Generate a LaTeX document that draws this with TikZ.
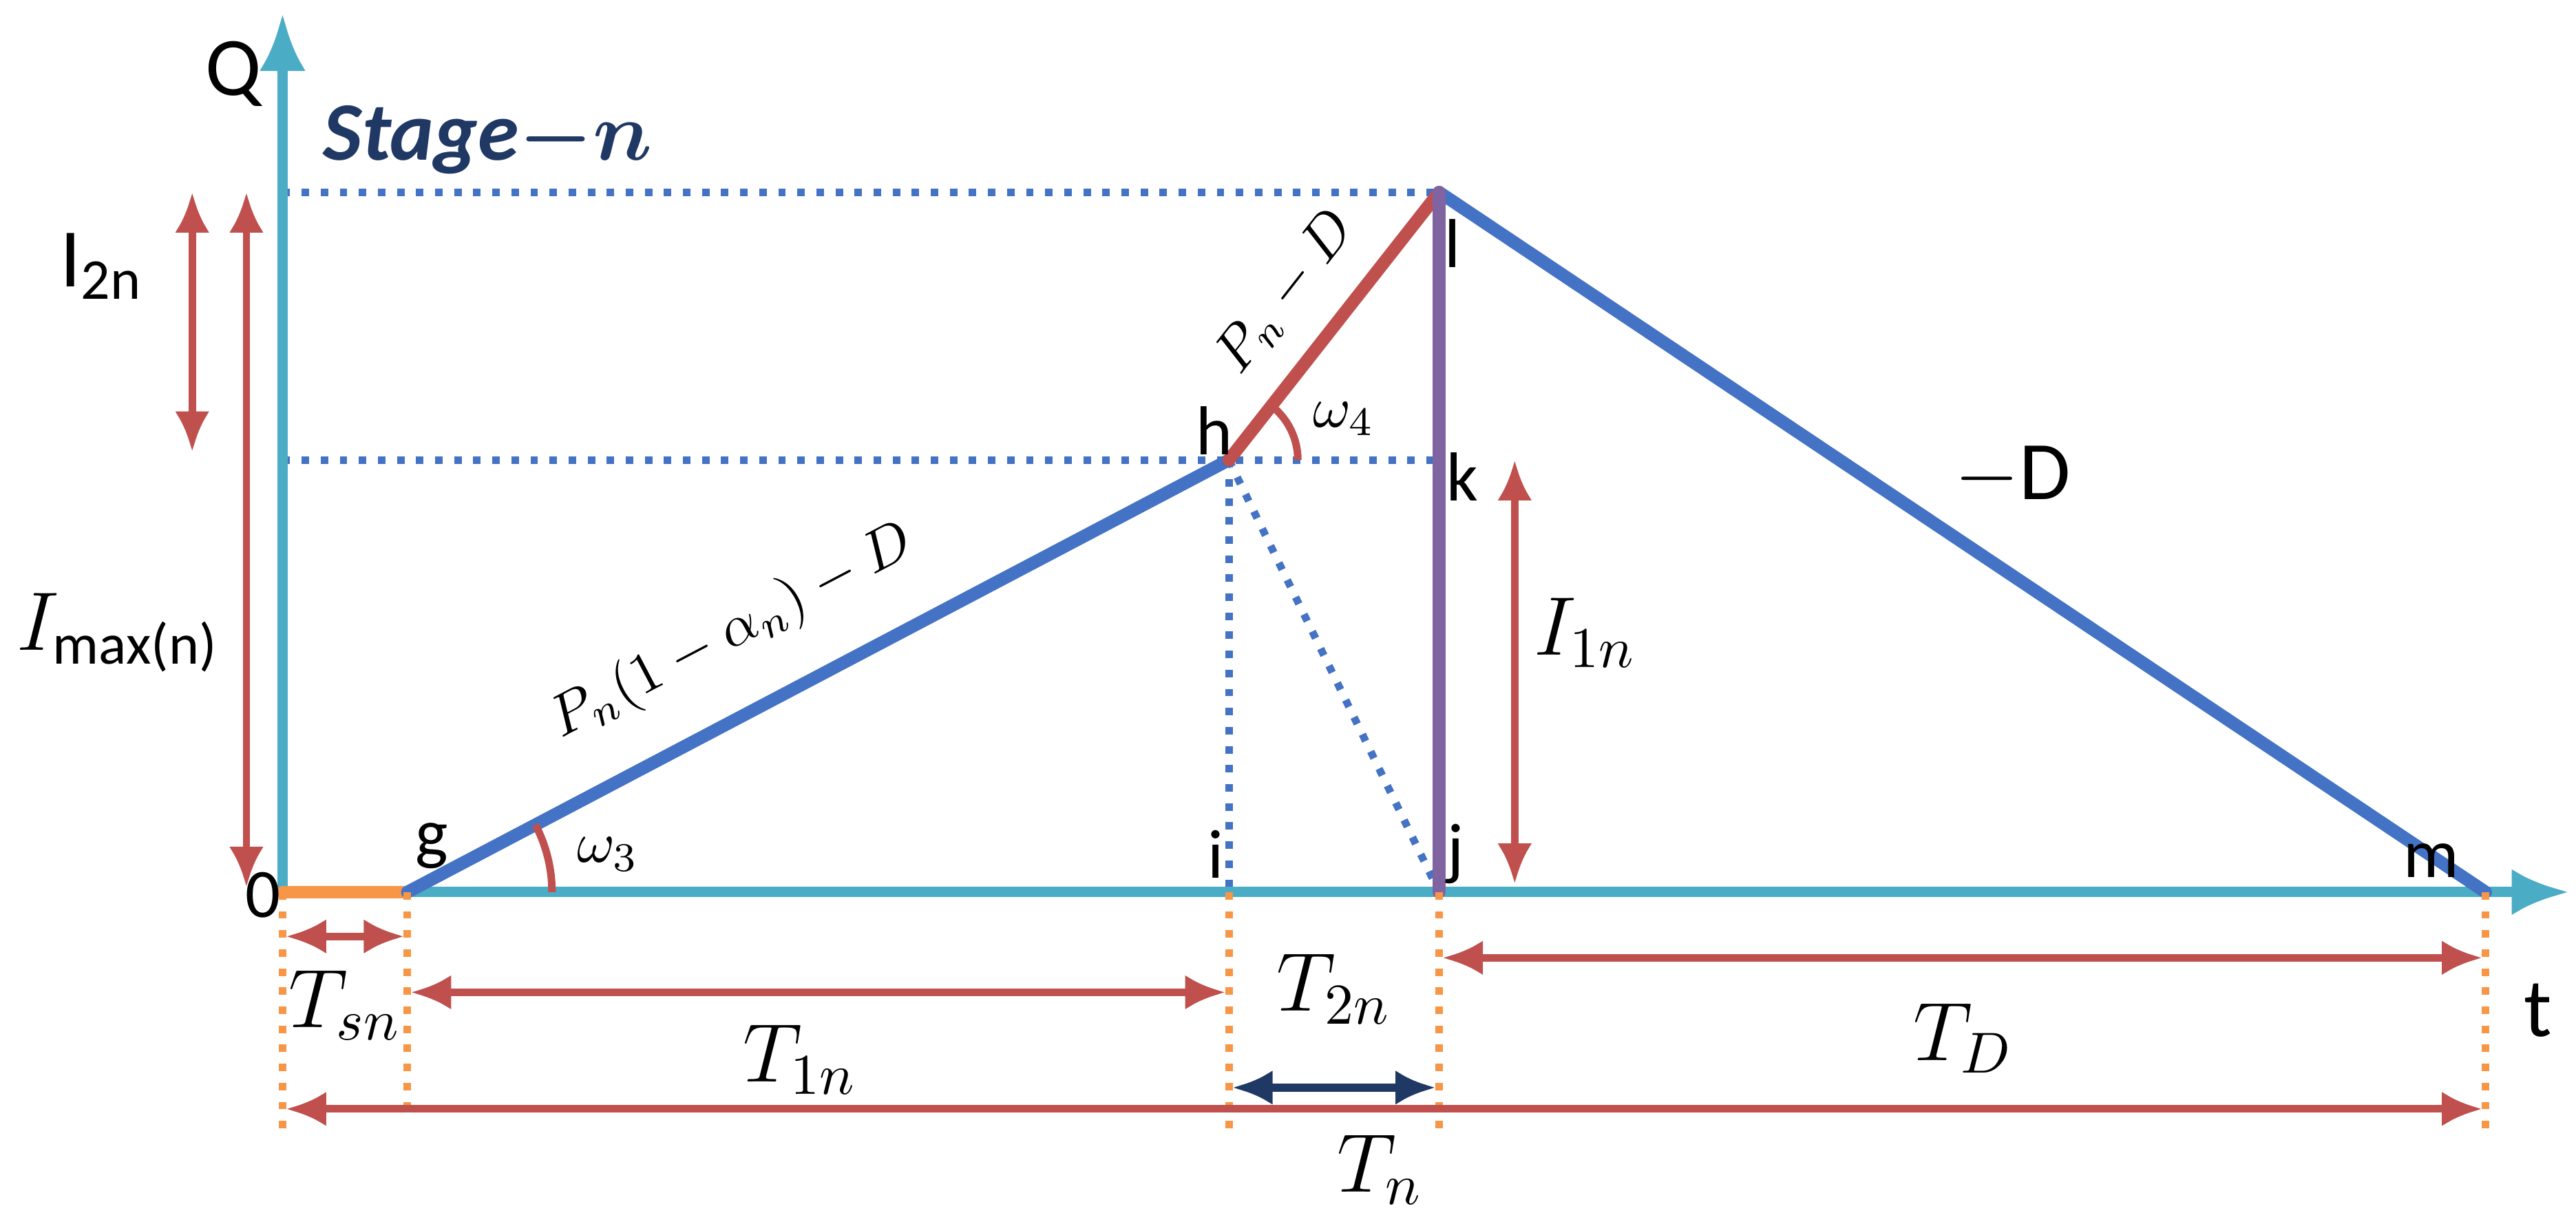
\documentclass[tikz,border=0pt]{standalone}
\usepackage{amsmath}
\usepackage{fontspec}
\setmainfont{Carlito}
\usetikzlibrary{arrows.meta,calc}
\definecolor{axc}{RGB}{75,172,198}
\definecolor{bl}{RGB}{68,114,196}
\definecolor{rd}{RGB}{192,80,77}
\definecolor{pu}{RGB}{128,100,162}
\definecolor{orc}{RGB}{247,150,70}
\definecolor{nv}{RGB}{31,56,100}
\begin{document}
\begin{tikzpicture}[x=0.01cm,y=-0.01cm,
  ax/.style={draw=axc,line width=1.8pt,-{Latex[length=10pt,width=8pt]}},
  ln/.style={line width=2.2pt,line cap=round},
  dt/.style={draw=bl,line width=1.3pt,dotted},
  od/.style={draw=orc,line width=1.3pt,dotted},
  ra/.style={draw=rd,line width=1.3pt,{Latex[length=7pt,width=6pt]}-{Latex[length=7pt,width=6pt]}},
  lb/.style={font=\large},
  big/.style={font=\Large}]
\useasboundingbox (0,0) rectangle (1568,745);
\coordinate (O) at (172,543); \coordinate (g) at (248,543);
\coordinate (i) at (748,543); \coordinate (j) at (876,543);
\coordinate (m) at (1513,543); \coordinate (h) at (748,280);
\coordinate (l) at (876,117); \coordinate (k) at (876,280);
\coordinate (Qt) at (172,8); \coordinate (te) at (1564,543);
\coordinate (Ql) at (172,117); \coordinate (Qh) at (172,280);
% dotted
\draw[dt] (Ql) -- (l); \draw[dt] (Qh) -- (k);
\draw[dt] (h) -- (i); \draw[dt] (h) -- (j);
% axes
\draw[ax] (O) -- (Qt);
\draw[ax] (O) -- (te);
\draw[orc,ln] (O) -- (g);
% lines
\draw[bl,ln] (g) -- (h);
\draw[rd,ln] (h) -- (l);
\draw[bl,ln] (l) -- (m);
\draw[pu,ln] (l) -- (j);
% angle arcs
\draw[rd,line width=1.3pt] ($(g)+(88,0)$) arc[start angle=0,end angle=-27.7,radius=88];
\draw[rd,line width=1.3pt] ($(h)+(42,0)$) arc[start angle=0,end angle=-51.9,radius=42];
% point labels
\node[lb] (lg) at (263,515) {g};
\node[lb] (lh) at (739,262) {h};
\node[lb] (li) at (740,520) {i};
\node[lb] (lj) at (886,520) {j};
\node[lb] (lk) at (890,290) {k};
\node[lb] (ll) at (884,148) {l};
\node[lb] (lm) at (1480,524) {m};
\node[lb] (l0) at (160,545) {0};
\node[big] (lQ) at (142,45) {Q};
\node[big] (lt) at (1545,615) {t};
\node[font=\Large\bfseries\itshape,text=nv] (st) at (297,85) {Stage$\boldsymbol{-n}$};
\node (w3) at (370,520) {$\omega_3$};
\node (w4) at (818,255) {$\omega_4$};
\node[rotate=27.7] (s1) at (446,385) {$P_n(1-\alpha_n)-D$};
\node[rotate=51.9] (s2) at (783,178) {$P_n-D$};
\node[big] (sD) at (1225,290) {$-$D};
% vertical arrows
\draw[ra] (117,117) -- (117,275);
\node[big] (I2) at (62,162) {I$_{\text{2n}}$};
\draw[ra] (150,117) -- (150,540);
\node[big] (Im) at (72,385) {$I_{\text{max(n)}}$};
\draw[ra] (922,280) -- (922,538);
\node[big] (I1) at (965,385) {$I_{1n}$};
% bottom dotted
\draw[od] (O) -- (172,692);
\draw[od] (g) -- (248,676);
\draw[od] (i) -- (748,692);
\draw[od] (j) -- (876,692);
\draw[od] (m) -- (1513,692);
% horizontal arrows
\draw[ra] (174,570) -- (246,570);
\node[big] (Ts) at (210,612) {$T_{sn}$};
\draw[ra] (250,604) -- (746,604);
\node[big] (T1) at (487,645) {$T_{1n}$};
\node[big] (T2) at (812,602) {$T_{2n}$};
\draw[draw=nv,line width=1.5pt,{Latex[length=7pt,width=6pt]}-{Latex[length=7pt,width=6pt]}] (750,662) -- (874,662);
\draw[ra] (878,583) -- (1511,583);
\node[big] (TD) at (1195,632) {$T_D$};
\draw[ra] (174,675) -- (1511,675);
\node[big] (Tn) at (840,712) {$T_n$};
\end{tikzpicture}
\end{document}
